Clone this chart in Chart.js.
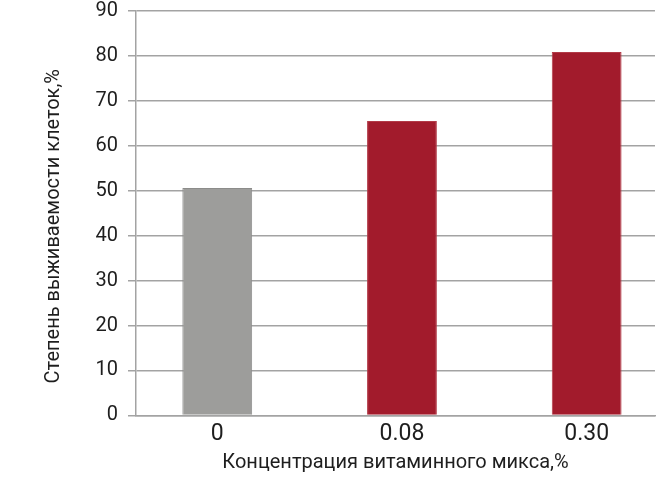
<!DOCTYPE html>
<html lang="ru">
<head>
    <meta charset="UTF-8">
    <title>Степень выживаемости клеток</title>
    <script src="https://cdn.jsdelivr.net/npm/chart.js@4/dist/chart.umd.min.js"></script>
    <style>
        body { margin: 0; background: #fff; overflow: hidden; }
        /* the top of the original figure is cut off, so pull the canvas up a bit */
        #chartCanvas { display: block; margin-top: -11px; }
    </style>
</head>
<body>
<canvas id="chartCanvas" width="660" height="515"></canvas>

<script>
    // concentrations of the vitamin mix, %
    const categories = ['0', '0.08', '0.30'];
    // cell survival, %
    const survival = [50.6, 65.5, 80.9];
    const barColors = ['#9d9d9b', '#a21b2c', '#a21b2c'];
    const edgeColors = ['#8c8c8a', '#b23a47', '#b23a47'];

    const xTitle = 'Концентрация витаминного микса,%';
    const yTitle = 'Степень выживаемости клеток,%';

    const textColor = '#1e1e1e';
    const gridColor = '#a3a3a3';

    // y title sits a little below the middle of the plot in the original
    const yTitlePlugin = {
        id: 'yTitle',
        afterDraw(chart) {
            const c = chart.ctx, area = chart.chartArea;
            c.save();
            c.translate(54, (area.top + area.bottom) / 2 + 13);
            c.rotate(-Math.PI / 2);
            c.textAlign = 'center';
            c.textBaseline = 'middle';
            c.font = '20px Roboto';
            c.fillStyle = textColor;
            c.fillText(yTitle, 0, 0);
            c.restore();
        }
    };

    const ctx = document.getElementById('chartCanvas').getContext('2d');
    new Chart(ctx, {
        type: 'bar',
        data: {
            datasets: [{
                data: categories.map((c, i) => ({ x: i, y: survival[i] })),
                backgroundColor: barColors,
                borderColor: edgeColors,
                borderWidth: 1,
                categoryPercentage: 1,
                barPercentage: 0.378
            }]
        },
        options: {
            responsive: false,
            animation: false,
            layout: { padding: { left: 40, right: 5, top: 0, bottom: 29 } },
            plugins: { legend: { display: false }, tooltip: { enabled: false } },
            scales: {
                x: {
                    type: 'linear',
                    offset: false,
                    min: -0.44,
                    max: 2.37,
                    grid: { display: false, drawTicks: false, offset: false },
                    border: { color: gridColor, width: 1.5 },
                    ticks: {
                        stepSize: 1,
                        includeBounds: false,
                        autoSkip: false,
                        maxRotation: 0,
                        padding: 5,
                        color: textColor,
                        font: { family: 'Roboto', size: 23 },
                        callback: v => categories[v]
                    },
                    title: {
                        display: true,
                        text: xTitle,
                        color: textColor,
                        font: { family: 'Roboto', size: 20 },
                        padding: { top: -2, bottom: 0 }
                    }
                },
                y: {
                    min: 0,
                    max: 90,
                    afterFit: s => { s.width = 96; },
                    grid: { color: gridColor, lineWidth: 1.5, tickLength: 8 },
                    border: { color: gridColor, width: 1.5 },
                    ticks: {
                        stepSize: 10,
                        padding: 10,
                        color: textColor,
                        font: { family: 'Roboto', size: 20 }
                    }
                }
            }
        },
        plugins: [yTitlePlugin]
    });
</script>
</body>
</html>
